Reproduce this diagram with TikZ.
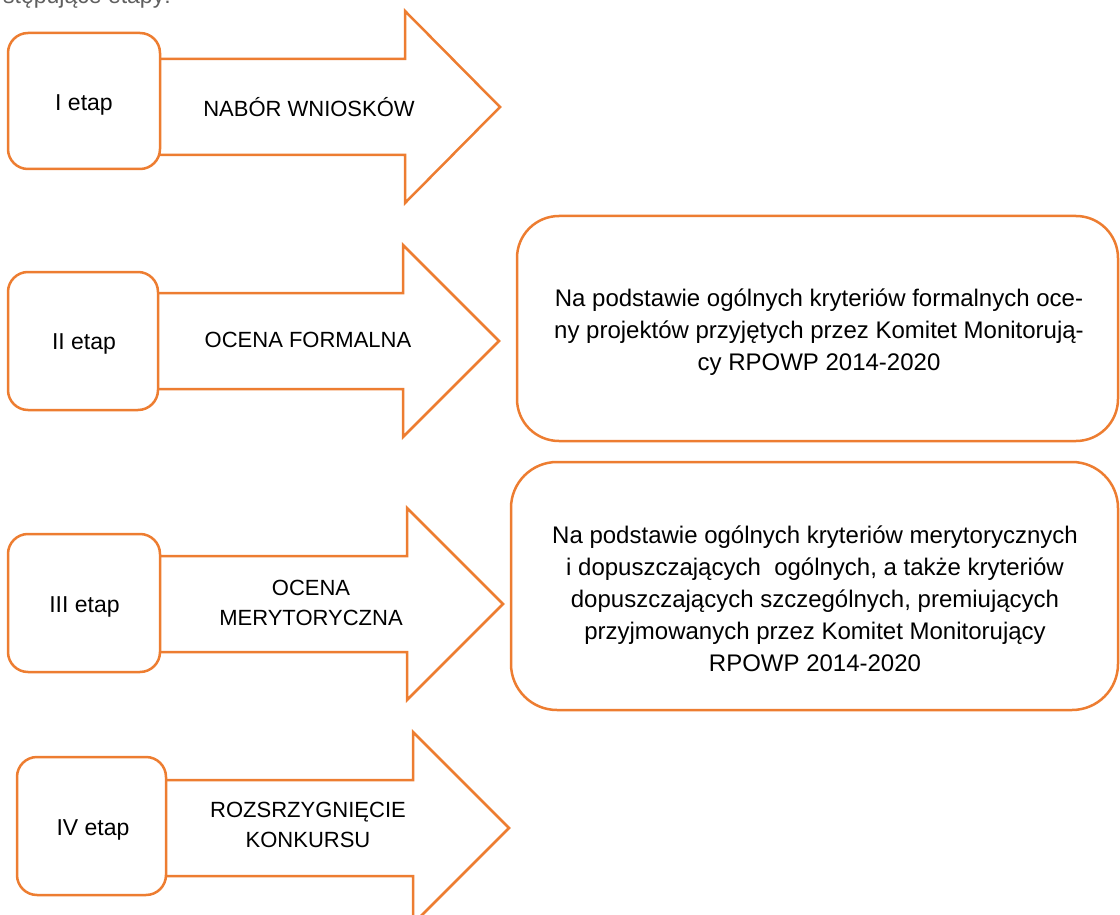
\documentclass[tikz,border=0pt]{standalone}
\usepackage{fontspec}
\setmainfont{Liberation Sans}
\definecolor{org}{HTML}{ED7D31}
\definecolor{topgray}{HTML}{5F5F5F}
\newcommand\stgarrow[4]{% xstart, cy, headx, tipx
  \draw[arrowline] (#1,#2-48) -- (#3,#2-48) -- (#3,#2-96) -- (#4,#2) -- (#3,#2+96) -- (#3,#2+48) -- (#1,#2+48) -- cycle;}
\begin{document}
\begin{tikzpicture}[x=1pt,y=-1pt,
  arrowline/.style={draw=org, line width=2.5pt, fill=white, line join=miter},
  stagebox/.style={draw=org, line width=2.5pt, fill=white, rounded corners=20pt, inner sep=0pt},
  infobox/.style={draw=org, line width=2.5pt, fill=white, rounded corners=42pt, inner sep=0pt},
  etap/.style={font=\fontsize{23}{30}\selectfont, text=black, anchor=base, inner sep=0pt},
  lbl/.style={font=\fontsize{22}{30}\selectfont, text=black, align=center, inner sep=0pt},
  info/.style={font=\fontsize{24}{32}\selectfont, text=black, align=center, inner sep=0pt}]
\useasboundingbox (0,0) rectangle (1120,915);
\begin{scope}
\clip (0,0) rectangle (1120,915);
\node[anchor=base west, inner sep=0pt, text=topgray, font=\fontsize{23}{26}\selectfont] (intro) at (3,4) {stępujące etapy:};
% arrows
\stgarrow{140}{107}{405}{500}
\stgarrow{140}{341}{403}{499}
\stgarrow{140}{604}{407}{503}
\stgarrow{150}{828}{413}{509}
% stage boxes
\node[stagebox, minimum width=152pt, minimum height=136pt] (s1) at (84,101) {};
\node[stagebox, minimum width=150pt, minimum height=138pt] (s2) at (83,341) {};
\node[stagebox, minimum width=152pt, minimum height=138pt] (s3) at (84,603) {};
\node[stagebox, minimum width=149pt, minimum height=138pt] (s4) at (91.5,826) {};
\node[etap] (t1) at (84,111) {I etap};
\node[etap] (t2) at (84,349) {II etap};
\node[etap] (t3) at (84.5,612) {III etap};
\node[etap] (t4) at (93,835) {IV etap};
% arrow labels
\node[lbl, anchor=base] (a1) at (309,116.5) {NABÓR WNIOSKÓW};
\node[lbl, anchor=base] (a2) at (308,347.5) {OCENA FORMALNA};
\node[lbl] (a3) at (311,602.5) {OCENA\\MERYTORYCZNA};
\node[lbl] (a4) at (308,825) {ROZSRZYGNIĘCIE\\KONKURSU};
% info boxes
\node[infobox, minimum width=601pt, minimum height=225pt] (b1) at (817.5,328.5) {};
\node[infobox, minimum width=607pt, minimum height=248pt, rounded corners=46pt] (b2) at (814.5,586) {};
\node[info] (i1) at (819,332.5) {Na podstawie ogólnych kryteriów formalnych oce-\\ny projektów przyjętych przez Komitet Monitoruj\k{a}-\\cy RPOWP 2014-2020};
\node[info] (i2) at (815,599) {Na podstawie ogólnych kryteriów merytorycznych\\i dopuszczających\ \ ogólnych, a także kryteriów\\dopuszczających szczególnych, premiujących\\przyjmowanych przez Komitet Monitorujący\\RPOWP 2014-2020};
\end{scope}
\end{tikzpicture}
\end{document}
